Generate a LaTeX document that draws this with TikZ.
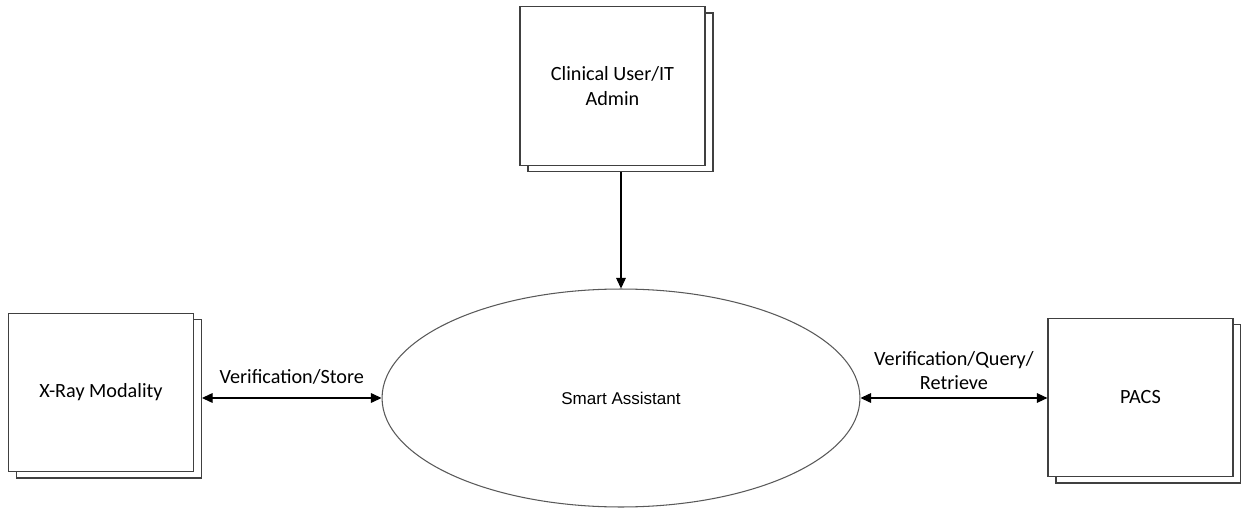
\documentclass[tikz,border=0pt]{standalone}
\usepackage{fontspec}
\setmainfont{Carlito}
\newfontfamily\arialfont{Liberation Sans}
\usetikzlibrary{shapes.geometric, shadows, arrows.meta}

\tikzset{
    actor/.style={draw=black!75, line width=0.7pt, fill=white, minimum width=3.7cm, minimum height=3.17cm,
                  align=center, font=\fontsize{11.5}{14}\selectfont,
                  copy shadow={shadow xshift=4.5pt, shadow yshift=-3.5pt, draw=black!75, fill=white}},
    flow/.style={line width=0.6pt, {Triangle[length=6pt, width=5.5pt]}-{Triangle[length=6pt, width=5.5pt]}},
    into/.style={line width=0.6pt, -{Triangle[length=6pt, width=5.5pt]}}
}

\begin{document}
\begin{tikzpicture}[auto, x=0.02cm, y=-0.02cm]
    \useasboundingbox (0, 0) rectangle (1241, 510);

    \node [ellipse, draw=black!65, line width=0.6pt, inner sep=0pt, minimum width=9.56cm, minimum height=4.36cm,
           font=\arialfont\fontsize{9.7}{12}\selectfont] (smart) at (621, 398) {Smart Assistant};
    \node [actor] (clinical) at (612.5, 86) {Clinical User/IT\\Admin};
    \node [actor] (xray) at (101, 392.5) {X-Ray Modality};
    \node [actor] (pacs) at (1140.5, 397.5) {PACS};

    \draw [into] ([yshift=-3.5pt]clinical.south -| smart.north) -- (smart.north);
    \draw [flow] ([xshift=4.5pt]xray.east |- smart.west) -- node [above=4pt, font=\fontsize{11.5}{14}\selectfont]
                 {Verification/Store} (smart.west);
    \draw [flow] (smart.east) -- node [above=1pt, align=center, font=\fontsize{11.5}{14}\selectfont]
                 {Verification/Query/\\Retrieve} (pacs.west |- smart.east);
\end{tikzpicture}
\end{document}
